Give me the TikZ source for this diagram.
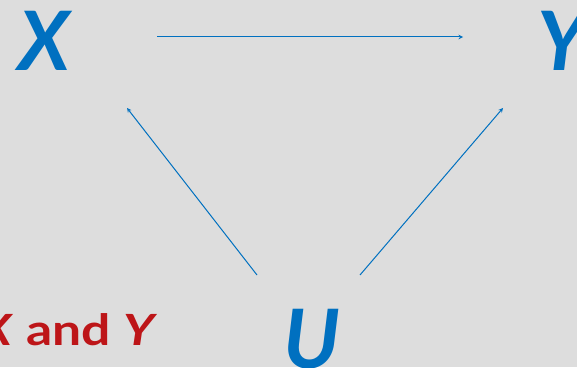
\documentclass[tikz,border=0pt]{standalone}
\usepackage{fontspec}
\setmainfont{Lato}
\newfontfamily\notefont[FakeStretch=1.2]{Lato}
\usepackage{tikz}
\usetikzlibrary{arrows}
\definecolor{varblue}{HTML}{0070C0}
\definecolor{notered}{HTML}{BD1518}
\definecolor{slidegray}{HTML}{DDDDDD}
\tikzset{
  varnode/.style = {inner sep=0pt, text=varblue,
    font=\fontsize{82}{82}\selectfont\bfseries\itshape},% variable X, Y, U
  notenode/.style = {inner sep=0pt, text=notered,
    font=\notefont\fontsize{43}{43}\selectfont\bfseries},% texte rouge
  causal/.style = {draw=varblue, line width=1pt, -stealth}% fleche causale
}
\begin{document}
\begin{tikzpicture}[x=1pt, y=1pt]
      \fill [slidegray] (0,0) rectangle (577,367);
      \useasboundingbox (0,0) rectangle (577,367);
      \node [varnode] (X) at (44,326) {X};
      \node [varnode, anchor=west] (Y) at (537,326) {Y};
      \node [varnode] (U) at (312,28) {U};
      \node [notenode, anchor=base east] (note) at (158,22) {\textit{X} and \textit{Y}};
      \coordinate (xy-tail) at (157,330);
      \coordinate (xy-head) at (463,330);
      \coordinate (ux-tail) at (257,92);
      \coordinate (ux-head) at (127,259);
      \coordinate (uy-tail) at (360,92);
      \coordinate (uy-head) at (503,259);
      \draw [causal] (xy-tail) -- (xy-head);
      \draw [causal] (ux-tail) -- (ux-head);
      \draw [causal] (uy-tail) -- (uy-head);
    \end{tikzpicture}
\end{document}
